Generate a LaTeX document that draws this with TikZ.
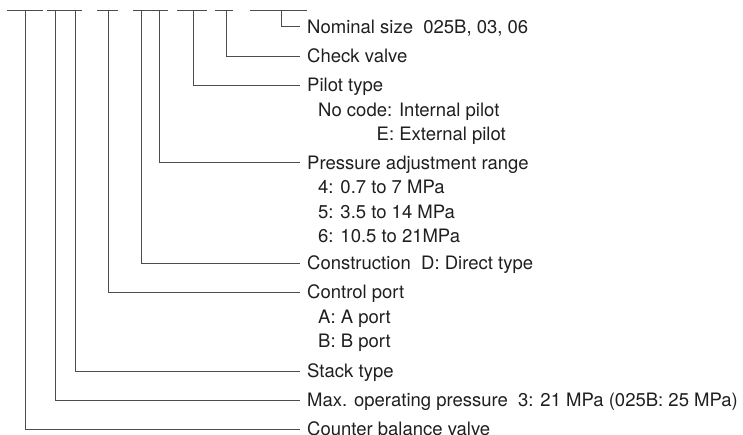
\documentclass[tikz,border=0pt]{standalone}
\usepackage{fontspec}
\setmainfont{TeX Gyre Heros}
\usetikzlibrary{positioning}
\definecolor{inkgray}{gray}{0.12}
\definecolor{linegray}{gray}{0.3}
\tikzstyle{codefield} = [anchor=west, inner xsep=7pt, inner ysep=0pt, text height=13.3pt, text depth=0pt, text=inkgray, font=\fontsize{18.5}{22}\selectfont]
\tikzstyle{codeopt} = [anchor=west, inner sep=0pt, text height=13.3pt, text depth=0pt, text=inkgray, font=\fontsize{18.5}{22}\selectfont]
\tikzstyle{digit} = [draw=linegray, line width=0.9pt]
\tikzstyle{leader} = [draw=linegray, line width=0.9pt]

\begin{document}
\begin{tikzpicture}[x=1pt, y=-1pt]
\useasboundingbox (0,0) rectangle (743,434);

% code positions
\draw [digit] (7,10) -- (43,10);
\draw [digit] (47,10) -- (82,10);
\draw [digit] (97,10) -- (118,10);
\draw [digit] (133,10) -- (168,10);
\draw [digit] (177,10) -- (207,10);
\draw [digit] (215,10) -- (233,10);
\draw [digit] (250,10) -- (307,10);

\coordinate (tcbv) at (25,10);
\coordinate (tmax) at (55,10);
\coordinate (tstk) at (75,10);
\coordinate (tctl) at (108,10);
\coordinate (tcon) at (141.5,10);
\coordinate (tpre) at (159,10);
\coordinate (tpil) at (193,10);
\coordinate (tchk) at (226,10);
\coordinate (tnom) at (281,10);

\node (nom) [codefield] at (300,26.5) {Nominal size\ \ 025B, 03, 06};
\node (chk) [codefield] at (300,56) {Check valve};

\node (pil) [codefield] at (300,85) {Pilot type};
\node (pil1) [codeopt] at (318,109.5) {No code: Internal pilot};
\node (pil2) [codeopt] at (376.5,134) {E: External pilot};

\node (pre) [codefield] at (300,162.5) {Pressure adjustment range};
\node (pre1) [codeopt] at (318,187) {4: 0.7 to 7 MPa};
\node (pre2) [codeopt] at (318,211.5) {5: 3.5 to 14 MPa};
\node (pre3) [codeopt] at (318,236) {6: 10.5 to 21MPa};

\node (con) [codefield] at (300,263) {Construction\ \ D: Direct type};

\node (ctl) [codefield] at (300,292) {Control port};
\node (ctl1) [codeopt] at (318,316.5) {A: A port};
\node (ctl2) [codeopt] at (318,341) {B: B port};

\node (stk) [codefield] at (300,371) {Stack type};
\node (max) [codefield] at (300,400) {Max. operating pressure\ \ 3: 21 MPa (025B: 25 MPa)};
\node (cbv) [codefield] at (300,429) {Counter balance valve};

\draw [leader] (tnom) |- (nom.west);
\draw [leader] (tchk) |- (chk.west);
\draw [leader] (tpil) |- (pil.west);
\draw [leader] (tpre) |- (pre.west);
\draw [leader] (tcon) |- (con.west);
\draw [leader] (tctl) |- (ctl.west);
\draw [leader] (tstk) |- (stk.west);
\draw [leader] (tmax) |- (max.west);
\draw [leader] (tcbv) |- (cbv.west);

\end{tikzpicture}
\end{document}
